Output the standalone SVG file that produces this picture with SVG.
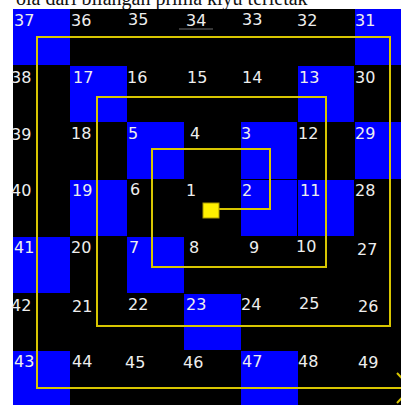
<svg xmlns="http://www.w3.org/2000/svg" width="401" height="405" viewBox="0 0 401 405">
<style>
.n{font-family:"DejaVu Sans",Verdana,sans-serif;font-size:16px;fill:#eeeeee}
.b{fill:#0000ff}
.sp{fill:none;stroke:#d8c600;stroke-width:2}
.cap{font-family:"Liberation Serif","Times New Roman",serif;font-size:20px;fill:#111}
</style>
<rect x="0" y="0" width="401" height="405" fill="#ffffff"/>
<text class="cap" x="16" y="5">ola dari bilangan prima kiyu terletak</text>
<rect x="13" y="9" width="400" height="400" fill="#000000"/>
<g id="blue-cells">
<rect class="b" x="13" y="9" width="57" height="56"/>
<rect class="b" x="355" y="9" width="50" height="56"/>
<rect class="b" x="70" y="66" width="57" height="56"/>
<rect class="b" x="298" y="66" width="56" height="56"/>
<rect class="b" x="127" y="122" width="57" height="57"/>
<rect class="b" x="241" y="122" width="56" height="57"/>
<rect class="b" x="355" y="122" width="50" height="57"/>
<rect class="b" x="70" y="180" width="57" height="56"/>
<rect class="b" x="241" y="180" width="56" height="56"/>
<rect class="b" x="298" y="180" width="56" height="56"/>
<rect class="b" x="13" y="237" width="57" height="56"/>
<rect class="b" x="127" y="237" width="57" height="56"/>
<rect class="b" x="184" y="294" width="57" height="56"/>
<rect class="b" x="13" y="351" width="57" height="56"/>
<rect class="b" x="241" y="351" width="57" height="56"/>
</g>
<g id="connectors">
<path class="sp" d="M219,209 H270 V149 H152 V267 H326 V97 H97 V326 H390 V37 H37 V388 H405"/>
<polyline class="sp" points="397,373 411,388 397,403"/>
</g>
<g id="start"><rect x="203" y="203" width="16" height="15" fill="#fff000" stroke="#a89800" stroke-width="1"/></g>
<line x1="179" y1="29" x2="213" y2="29" stroke="#4a4a4a" stroke-width="1.5"/>
<g id="numbers">
<text class="n" x="14" y="26">37</text><text class="n" x="71" y="26">36</text><text class="n" x="128" y="25">35</text><text class="n" x="186" y="26">34</text><text class="n" x="242" y="25">33</text><text class="n" x="297" y="26">32</text><text class="n" x="355" y="26">31</text>
<text class="n" x="11" y="83">38</text><text class="n" x="73" y="83">17</text><text class="n" x="127" y="83">16</text><text class="n" x="187" y="83">15</text><text class="n" x="242" y="83">14</text><text class="n" x="299" y="83">13</text><text class="n" x="355" y="83">30</text>
<text class="n" x="11" y="140">39</text><text class="n" x="71" y="139">18</text><text class="n" x="128" y="139">5</text><text class="n" x="190" y="139">4</text><text class="n" x="241" y="139">3</text><text class="n" x="298" y="139">12</text><text class="n" x="355" y="139">29</text>
<text class="n" x="11" y="196">40</text><text class="n" x="72" y="196">19</text><text class="n" x="130" y="195">6</text><text class="n" x="186" y="196">1</text><text class="n" x="242" y="196">2</text><text class="n" x="300" y="196">11</text><text class="n" x="355" y="196">28</text>
<text class="n" x="14" y="253">41</text><text class="n" x="71" y="253">20</text><text class="n" x="129" y="253">7</text><text class="n" x="189" y="253">8</text><text class="n" x="249" y="253">9</text><text class="n" x="296" y="252">10</text><text class="n" x="357" y="255">27</text>
<text class="n" x="11" y="311">42</text><text class="n" x="72" y="312">21</text><text class="n" x="128" y="310">22</text><text class="n" x="186" y="310">23</text><text class="n" x="241" y="310">24</text><text class="n" x="299" y="309">25</text><text class="n" x="358" y="312">26</text>
<text class="n" x="14" y="367">43</text><text class="n" x="72" y="367">44</text><text class="n" x="125" y="368">45</text><text class="n" x="183" y="368">46</text><text class="n" x="242" y="367">47</text><text class="n" x="298" y="367">48</text><text class="n" x="358" y="368">49</text>
</g>
</svg>
